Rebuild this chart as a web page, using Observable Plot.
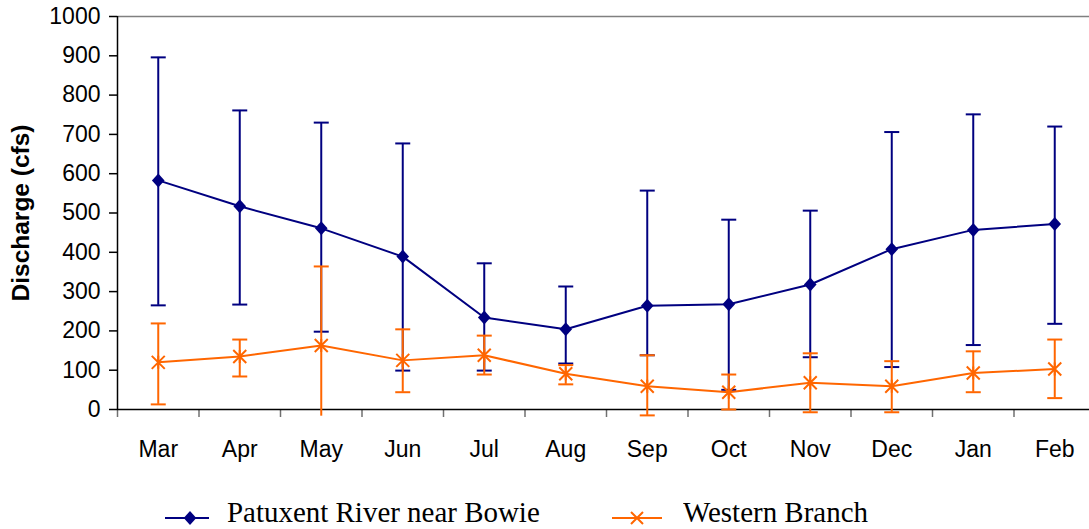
<!DOCTYPE html>
<html>
<head>
<meta charset="utf-8">
<script src="https://cdn.jsdelivr.net/npm/d3@7"></script>
<script src="https://cdn.jsdelivr.net/npm/@observablehq/plot@0.6"></script>
<style>
  html, body { margin: 0; padding: 0; background: #fff; }
  #chart svg { display: block; }
  #legend { position: relative; width: 1089px; height: 49px; font-family: "Liberation Serif", "Times New Roman", serif; font-size: 30px; color: #000; }
  #legend .item { position: absolute; top: 17px; height: 40px; display: flex; align-items: center; }
  #legend svg { display: block; position: relative; top: 1px; }
  #legend span { display: inline-block; position: relative; top: -5px; transform-origin: left center; transform: scaleX(0.965); white-space: nowrap; }
</style>
</head>
<body>
<div id="chart"></div>
<div id="legend"></div>
<script>
const months = ["Mar", "Apr", "May", "Jun", "Jul", "Aug", "Sep", "Oct", "Nov", "Dec", "Jan", "Feb"];
const yTicks = [0, 100, 200, 300, 400, 500, 600, 700, 800, 900, 1000];

const seriesNames = ["Patuxent River near Bowie", "Western Branch"];
const seriesColors = ["#000080", "#FF6600"];

const patuxentMean = [583, 517, 461, 389, 234, 204, 264, 268, 318, 408, 457, 472];
const patuxentHigh = [896, 761, 730, 677, 372, 313, 557, 483, 506, 706, 751, 720];
const patuxentLow  = [265, 267, 198, 99, 99, 117, 138, 50, 133, 108, 164, 218];

const westernMean = [120, 135, 163, 125, 138, 91, 59, 44, 68, 59, 93, 103];
const westernHigh = [219, 178, 364, 204, 188, 113, 138, 89, 143, 123, 148, 178];
const westernLow  = [13, 84, -60, 44, 89, 64, -15, 0, -7, -7, 44, 29];

// plot area floor (error bars are clipped below this value)
const floorValue = -17;

function rows(mean, lo, hi) {
  return months.map((m, i) => ({ i: i + 0.5, month: m, mean: mean[i], lo: lo[i], hi: hi[i] }));
}
const patuxent = rows(patuxentMean, patuxentLow, patuxentHigh);
const western = rows(westernMean, westernLow, westernHigh);

// custom symbols
const diamond = { draw(ctx, size) { const r = Math.sqrt(size / Math.PI); const w = r * 0.9;
  ctx.moveTo(0, -r); ctx.lineTo(w, 0); ctx.lineTo(0, r); ctx.lineTo(-w, 0); ctx.closePath(); } };
const star = { draw(ctx, size) { const r = Math.sqrt(size / Math.PI);
  ctx.moveTo(-r, -r); ctx.lineTo(r, r); ctx.moveTo(-r, r); ctx.lineTo(r, -r);
  ctx.moveTo(0, -r); ctx.lineTo(0, r); } };
const cap = { draw(ctx, size) { const r = Math.sqrt(size / Math.PI);
  ctx.moveTo(-r, 0); ctx.lineTo(r, 0); } };

function seriesMarks(data, color, symbol, filled) {
  return [
    Plot.ruleX(data, { x: "i", y1: d => Math.max(d.lo, floorValue), y2: "hi", stroke: color, strokeWidth: 2 }),
    Plot.dot(data, { x: "i", y: "hi", symbol: cap, r: 7.5, stroke: color, strokeWidth: 2 }),
    Plot.dot(data.filter(d => d.lo >= floorValue), { x: "i", y: "lo", symbol: cap, r: 7.5, stroke: color, strokeWidth: 2 }),
    Plot.line(data, { x: "i", y: "mean", stroke: color, strokeWidth: 2 }),
    filled
      ? Plot.dot(data, { x: "i", y: "mean", symbol, r: 7, fill: color, stroke: "none" })
      : Plot.dot(data, { x: "i", y: "mean", symbol, r: 6.5, stroke: color, strokeWidth: 2, fill: "none" })
  ];
}

const plot = Plot.plot({
  width: 1089,
  height: 480,
  marginLeft: 117,
  marginRight: 0,
  marginTop: 16,
  marginBottom: 71,
  style: { fontFamily: "'Liberation Sans', Arial, sans-serif", fontSize: "23px", color: "#000", background: "#fff", overflow: "visible" },
  x: { type: "linear", domain: [0, months.length], range: [117, 1095] },
  y: { domain: [0, 1000], range: [409, 16] },
  marks: [
    Plot.ruleY([1000], { stroke: "#808080", strokeWidth: 1.5 }),
    Plot.axisX(d3.range(months.length + 1), { tickSize: 8, tickFormat: () => "", stroke: "#707070", strokeWidth: 1.5, label: null }),
    Plot.axisX(months.map((m, i) => i + 0.5), { tickSize: 0, tickPadding: 31, tickFormat: v => months[Math.round(v - 0.5)], fontSize: 23, label: null }),
    Plot.axisY(yTicks, { tickSize: 8, tickPadding: 9, tickFormat: d => String(d), fontSize: 23, strokeWidth: 1.5, label: null }),
    Plot.ruleX([0], { stroke: "#000", strokeWidth: 1.5 }),
    Plot.ruleY([0], { stroke: "#000", strokeWidth: 1.5 }),
    Plot.text(["Discharge (cfs)"], { frameAnchor: "left", dx: -96, rotate: -90, textAnchor: "middle", fontWeight: "bold", fontSize: 24.5, fill: "#000" }),
    ...seriesMarks(patuxent, seriesColors[0], diamond, true),
    ...seriesMarks(western, seriesColors[1], star, false)
  ]
});
document.getElementById("chart").appendChild(plot);

// legend
const legend = document.getElementById("legend");
const legendItems = [
  { name: seriesNames[0], color: seriesColors[0], left: 165, kind: "diamond" },
  { name: seriesNames[1], color: seriesColors[1], left: 612, kind: "star" }
];
for (const it of legendItems) {
  const div = document.createElement("div");
  div.className = "item";
  div.style.left = it.left + "px";
  const sw = it.kind === "diamond" ? 44 : 50;
  const c = sw / 2 + (it.kind === "diamond" ? 3 : 0);
  const marker = it.kind === "diamond"
    ? `<path d="M${c},${12-7} L${c+6.3},12 L${c},${12+7} L${c-6.3},12 Z" fill="${it.color}"/>`
    : `<path d="M${c-6},6 L${c+6},18 M${c-6},18 L${c+6},6" stroke="${it.color}" stroke-width="2" fill="none"/>`;
  div.innerHTML = `<svg width="${sw}" height="24"><line x1="0" x2="${sw}" y1="12" y2="12" stroke="${it.color}" stroke-width="2"/>${marker}</svg><span style="margin-left:${it.kind === "diamond" ? 18 : 21}px;line-height:1;">${it.name}</span>`;
  legend.appendChild(div);
}
</script>
</body>
</html>
